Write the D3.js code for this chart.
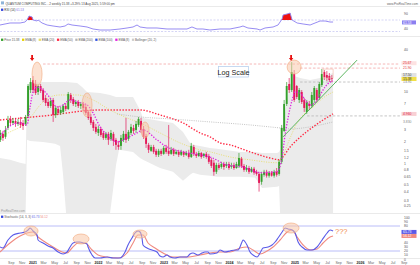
<!DOCTYPE html>
<html><head><meta charset="utf-8">
<script src="https://cdn.jsdelivr.net/npm/d3@7/dist/d3.min.js"></script>
<style>html,body{margin:0;padding:0;background:#fff;overflow:hidden}svg{display:block}text{font-family:"Liberation Sans",Arial,sans-serif}</style>
</head><body>
<svg id="chart" width="420" height="265"></svg>
<script>
// ---------------- DATA ----------------
const firstCandle = "2020-07-03"; // 2-weekly bars
const candleOpen = [2.14,2.60,2.36,3.15,4.22,3.71,3.95,3.59,3.83,3.71,
3.59,4.65,10.77,14.89,13.08,10.10,12.26,10.77,8.32,7.31,
6.42,7.80,4.80,5.83,5.12,5.29,6.42,5.83,9.17,8.05,
6.85,7.31,6.42,6.85,6.22,5.29,4.50,3.83,3.26,2.68,
3.05,2.68,2.28,2.60,2.21,2.60,2.14,1.82,1.76,2.14,
2.60,2.21,2.68,3.15,2.95,3.47,3.95,3.05,2.43,1.82,
1.50,1.70,1.50,1.32,1.50,1.36,1.65,1.50,1.36,1.55,
1.36,1.45,1.32,1.45,1.32,1.40,1.23,1.70,1.36,1.27,
1.40,1.27,1.36,1.27,1.12,1.02,0.76,0.95,0.89,0.98,
0.92,0.98,0.89,0.95,0.86,0.92,1.16,0.92,0.81,0.86,
0.76,0.84,0.76,0.71,0.55,0.69,0.76,0.67,0.74,0.67,
0.76,0.71,1.05,2.86,6.85,13.08,10.77,18.07,12.26,7.80,
10.10,7.80,5.29,6.85,6.42,7.80,10.77,8.32,12.66,19.28,
17.50,16.94,15.88];
const candleHigh = [2.95,2.86,3.36,4.65,4.65,4.36,4.36,4.22,4.50,4.08,
4.80,13.08,15.88,16.94,14.89,13.08,13.08,11.49,9.17,8.05,
8.32,8.32,6.42,6.42,6.22,6.85,7.07,10.10,9.78,8.59,
7.80,7.80,7.31,7.31,6.85,5.64,4.96,4.08,3.59,3.36,
3.26,2.86,2.77,2.77,2.95,2.77,2.28,2.07,2.51,2.86,
4.36,2.95,3.59,3.47,3.95,4.50,4.36,3.36,2.60,1.94,
1.82,1.82,1.60,1.60,1.60,1.76,1.82,3.47,1.70,1.65,
1.55,1.55,1.55,1.50,1.50,1.55,1.94,1.82,1.45,1.50,
1.45,1.40,1.45,1.36,1.19,1.12,1.02,1.02,1.05,1.05,
1.05,1.05,1.02,1.02,1.05,1.40,1.23,0.98,0.95,0.92,
0.89,0.89,0.81,0.76,0.76,0.81,0.81,0.78,0.78,0.81,
0.86,1.12,3.47,7.80,13.95,15.88,26.65,20.57,12.66,11.49,
10.77,8.32,7.80,7.55,10.10,12.26,11.49,13.95,21.25,20.57,
19.92,18.67,17.50];
const candleLow = [2.00,2.07,2.21,2.95,3.36,3.47,3.26,3.36,3.15,2.95,
3.36,4.36,9.78,9.78,9.17,9.17,9.78,7.31,6.42,6.02,
6.02,3.83,4.36,4.80,4.80,4.96,5.46,5.64,7.07,6.42,
6.22,6.02,5.83,5.46,4.80,4.08,3.47,2.86,2.60,2.43,
2.36,2.14,2.14,1.82,2.07,1.76,1.55,1.55,1.55,2.00,
1.94,2.07,2.51,2.60,2.68,3.26,2.68,2.21,1.65,1.40,
1.45,1.36,1.23,1.23,1.27,1.32,1.36,1.27,1.32,1.27,
1.32,1.23,1.27,1.23,1.27,1.16,1.19,1.27,1.19,1.23,
1.16,1.19,1.16,0.98,0.86,0.67,0.71,0.81,0.84,0.81,
0.86,0.81,0.84,0.81,0.84,0.86,0.86,0.76,0.76,0.71,
0.74,0.69,0.67,0.40,0.50,0.65,0.63,0.63,0.65,0.63,
0.65,0.67,0.98,2.77,6.42,9.78,10.10,7.31,8.05,7.07,
6.85,5.29,4.96,5.64,6.02,7.07,7.31,7.80,11.87,14.89,
14.41,13.95,13.95];
const candleClose = [2.68,2.28,2.95,4.08,3.71,3.95,3.59,3.83,3.47,3.36,
4.50,12.26,13.95,10.77,9.78,12.26,10.43,7.80,7.07,6.42,
7.55,4.80,6.02,5.12,5.64,6.42,5.83,9.47,7.80,6.85,
7.31,6.42,6.85,6.02,5.12,4.36,3.71,3.15,2.77,3.05,
2.51,2.28,2.60,2.14,2.68,2.07,1.82,1.70,2.28,2.60,
2.14,2.77,3.26,2.86,3.59,4.22,2.95,2.36,1.88,1.55,
1.70,1.45,1.32,1.50,1.36,1.65,1.45,1.36,1.55,1.36,
1.45,1.32,1.45,1.32,1.40,1.23,1.76,1.36,1.27,1.40,
1.23,1.36,1.23,1.05,0.92,0.76,0.95,0.86,0.98,0.89,
0.98,0.86,0.95,0.86,0.98,1.19,0.92,0.81,0.86,0.76,
0.84,0.74,0.71,0.53,0.71,0.76,0.67,0.74,0.67,0.76,
0.69,1.05,3.15,6.85,12.26,10.77,19.28,7.80,8.59,10.77,
7.31,6.02,7.31,6.42,9.17,11.49,7.80,13.08,18.07,16.40,
15.88,14.89,15.38];

// moving averages: [decimal year, price]
const emaLong = [[2020.496,4.08],[2021.000,4.50],[2021.305,4.80],[2021.519,5.12],[2021.763,5.46],[2022.023,5.64],[2022.282,5.64],[2022.634,5.64],[2022.939,4.80],[2023.290,3.71],[2023.550,2.68],[2023.702,2.36],[2023.855,1.94],[2024.008,1.82],[2024.313,1.45],[2024.618,1.19],[2024.771,1.12],[2024.802,1.19],[2024.924,1.70],[2025.031,2.14],[2025.153,2.68],[2025.275,3.26],[2025.427,4.08],[2025.580,4.96]];
const emaGray = [[2022.282,4.96],[2022.634,4.50],[2023.092,4.22],[2023.702,3.83],[2024.313,3.47],[2024.771,3.15],[2024.924,3.05],[2025.229,3.26],[2025.580,3.83]];
const emaYellow = [[2020.496,2.28],[2020.649,2.77],[2020.802,3.26],[2020.954,4.36],[2021.107,6.63],[2021.260,8.59],[2021.412,9.17],[2021.672,9.17],[2021.916,7.80],[2022.176,5.64],[2022.435,4.36],[2022.634,3.71],[2022.939,2.68],[2023.244,1.94],[2023.550,1.55],[2023.702,1.45],[2024.008,1.23],[2024.313,1.12],[2024.725,1.02],[2024.817,1.32],[2024.924,2.28],[2025.031,3.71],[2025.122,4.80],[2025.275,6.22],[2025.427,8.32],[2025.580,10.10]];
const emaFast = [[2020.496,2.43],[2020.649,3.36],[2020.802,3.71],[2020.908,3.47],[2020.954,6.22],[2021.000,10.10],[2021.061,11.87],[2021.153,10.77],[2021.260,8.32],[2021.366,6.22],[2021.458,6.63],[2021.565,7.80],[2021.672,7.31],[2021.824,6.63],[2021.916,5.12],[2022.023,3.26],[2022.130,2.51],[2022.282,2.00],[2022.435,2.28],[2022.588,2.68],[2022.679,2.95],[2022.893,2.14],[2023.046,1.70],[2023.290,1.45],[2023.550,1.32],[2023.702,1.23],[2023.962,0.95],[2024.206,0.89],[2024.466,0.74],[2024.725,0.76],[2024.802,1.23],[2024.847,2.51],[2024.893,4.36],[2024.954,7.80],[2025.000,10.10],[2025.076,9.78],[2025.153,7.80],[2025.229,6.63],[2025.305,7.07],[2025.382,9.17],[2025.458,11.87],[2025.534,13.95],[2025.580,14.41]];

// Bollinger (20,2) – null lower = below the log axis
const bandYears = [2020.496,2020.649,2020.802,2020.886,2020.908,2020.954,2021.153,2021.336,2021.412,2021.458,2021.504,2021.672,2021.748,2021.824,2022.023,2022.176,2022.221,2022.267,2022.313,2022.527,2022.634,2022.679,2022.939,2023.137,2023.290,2023.397,2023.443,2023.550,2023.702,2023.809,2024.160,2024.389,2024.496,2024.725,2024.756,2024.771,2024.786,2024.832,2024.878,2024.924,2024.985,2025.076,2025.229,2025.382,2025.580];
const bandUpper = [1.19,1.12,1.02,0.98,12.26,13.51,13.95,13.95,13.95,13.95,13.95,13.51,11.87,10.10,9.78,9.17,8.87,8.59,8.59,8.59,5.64,4.36,3.95,3.71,2.77,1.94,1.82,1.76,1.65,1.60,1.45,1.45,1.40,1.40,1.45,1.55,2.51,4.36,7.80,12.66,16.94,15.88,14.89,15.88,18.67];
const bandLower = [null,null,null,null,2.14,2.07,2.00,1.88,1.76,0.69,null,null,null,null,null,null,0.42,0.95,1.55,1.45,1.19,1.12,0.86,0.76,0.57,0.69,0.74,0.69,0.67,0.65,0.65,0.63,0.45,0.47,0.48,null,null,null,null,null,null,null,null,null,null];

// RSI (14)
const rsiSeries = [[2020.496,52.6],[2020.573,56.1],[2020.649,59.6],[2020.725,59.6],[2020.802,59.6],[2020.878,63.0],[2020.908,70.0],[2020.939,83.9],[2020.985,80.4],[2021.000,70.0],[2021.061,66.5],[2021.076,70.0],[2021.137,59.6],[2021.214,52.6],[2021.305,49.1],[2021.412,45.7],[2021.489,49.1],[2021.534,56.1],[2021.595,52.6],[2021.718,49.1],[2021.824,45.7],[2021.916,38.7],[2022.023,35.2],[2022.176,35.2],[2022.328,38.7],[2022.435,42.2],[2022.527,45.7],[2022.588,52.6],[2022.634,45.7],[2022.740,42.2],[2022.893,42.2],[2023.046,38.7],[2023.198,38.7],[2023.351,38.7],[2023.427,45.7],[2023.504,38.7],[2023.595,38.7],[2023.702,35.2],[2023.855,38.7],[2024.008,38.7],[2024.160,45.7],[2024.206,49.1],[2024.282,42.2],[2024.420,38.7],[2024.466,35.2],[2024.542,42.2],[2024.664,45.7],[2024.740,52.6],[2024.802,73.5],[2024.817,87.4],[2024.878,90.9],[2024.924,94.3],[2024.954,70.0],[2025.031,59.6],[2025.122,56.1],[2025.229,52.6],[2025.305,59.6],[2025.382,66.5],[2025.458,66.5],[2025.534,63.0],[2025.580,63.0]];

// Stochastic (14,3,3)
const stochK = [[2020.496,29.6],[2020.542,27.2],[2020.618,46.4],[2020.695,58.4],[2020.802,63.2],[2020.878,65.6],[2020.924,70.4],[2020.954,75.2],[2021.000,68],[2021.061,58.4],[2021.076,46.4],[2021.153,39.2],[2021.229,32],[2021.305,27.2],[2021.382,17.6],[2021.458,12.8],[2021.519,17.6],[2021.565,29.6],[2021.611,39.2],[2021.672,41.6],[2021.718,41.6],[2021.763,39.2],[2021.824,36.8],[2021.840,29.6],[2021.901,10.4],[2021.947,3.2],[2022.023,3.2],[2022.130,5.6],[2022.221,3.2],[2022.328,3.2],[2022.405,17.6],[2022.450,34.4],[2022.511,51.2],[2022.557,63.2],[2022.603,68],[2022.634,65.6],[2022.664,51.2],[2022.679,34.4],[2022.740,27.2],[2022.817,22.4],[2022.893,17.6],[2022.939,8],[2022.985,5.6],[2023.046,10.4],[2023.092,5.6],[2023.168,3.2],[2023.244,5.6],[2023.351,5.6],[2023.397,12.8],[2023.443,15.2],[2023.519,10.4],[2023.580,15.2],[2023.626,17.6],[2023.672,17.6],[2023.702,12.8],[2023.809,15.2],[2023.855,22.4],[2023.931,17.6],[2024.008,20],[2024.084,22.4],[2024.130,22.4],[2024.191,41.6],[2024.206,46.4],[2024.267,34.4],[2024.313,17.6],[2024.359,10.4],[2024.420,5.6],[2024.466,15.2],[2024.511,27.2],[2024.588,29.6],[2024.649,34.4],[2024.695,41.6],[2024.740,51.2],[2024.802,65.6],[2024.847,75.2],[2024.893,72.8],[2024.954,70.4],[2025.000,63.2],[2025.046,41.6],[2025.107,29.6],[2025.183,22.4],[2025.260,22.4],[2025.336,29.6],[2025.412,46.4],[2025.489,63.2],[2025.534,70.4],[2025.580,68]];
const stochD = [[2020.496,17.6],[2020.649,39.2],[2020.802,56],[2020.908,63.2],[2021.000,65.6],[2021.076,53.6],[2021.183,41.6],[2021.305,29.6],[2021.443,17.6],[2021.519,15.2],[2021.595,27.2],[2021.687,39.2],[2021.794,39.2],[2021.901,22.4],[2021.992,10.4],[2022.130,5.6],[2022.298,3.2],[2022.435,15.2],[2022.527,39.2],[2022.603,58.4],[2022.679,58.4],[2022.756,39.2],[2022.863,27.2],[2022.985,15.2],[2023.137,5.6],[2023.351,5.6],[2023.550,10.4],[2023.702,15.2],[2023.855,17.6],[2024.008,17.6],[2024.160,27.2],[2024.267,29.6],[2024.359,22.4],[2024.466,12.8],[2024.573,20],[2024.664,29.6],[2024.771,46.4],[2024.878,65.6],[2024.954,70.4],[2025.031,53.6],[2025.122,34.4],[2025.229,22.4],[2025.336,24.8],[2025.427,39.2],[2025.534,53.6],[2025.580,56]];

// annotations
const trendLine = [[2024.817,2.36],[2025.947,28.4]];
const levelLines = [
  {from:2021.153, price:25.0, color:"#f4a6a6"},
  {from:2025.076, price:21.9, color:"#f4a6a6"},
  {from:2025.076, price:13.95, color:"#b8b8b8"},
  {from:2025.183, price:4.65, color:"#b8b8b8"}];
const priceCircles = [[2021.061,18.07,5,12],[2021.824,6.63,5,12],[2022.710,2.95,4,8],[2024.985,22.66,7,7]];
const stochCircles = [[2020.969,68,7,5],[2021.733,48.8,8,5],[2022.634,60.8,7,4],[2024.939,75.2,8,5]];
const peakArrows = [[2020.985,27.5],[2024.939,27.5]];
const mainTicks = [40,10,7,3,2,1.5,1.2,1,0.8,0.65,0.5,0.4,0.3,0.25];
const mainBoxes = [
  {p:25.67,t:"25.67",bg:"#fde2e2",fg:"#e03030"},
  {p:21.9,t:"21.90",bg:"none",fg:"#e03030"},
  {p:17.5,t:"17.50",bg:"#e2e2e2",fg:"#444"},
  {p:15.38,t:"15.38",bg:"#f2e04a",fg:"#333"},
  {p:13.95,t:"13.95",bg:"none",fg:"#777"},
  {p:4.96,t:"4.960",bg:"#f8d0d4",fg:"#e02040"},
  {p:3.83,t:"3.830",bg:"none",fg:"#888"}];
const rsiTicks = [90,40];
const stochTicks = [100,90,80,40,30,20,10,0];

// ---------------- CHART ----------------
const yr2date = y => { const Y=Math.floor(y), a=Date.UTC(Y,0,1), b=Date.UTC(Y+1,0,1); return new Date(a+(y-Y)*(b-a)); };
const svg = d3.select("#chart");
const x = d3.scaleUtc().domain([yr2date(2020.496), yr2date(2026.908)]).range([0,420]);
const MAIN_TOP=36, MAIN_BOT=213;
const yP = d3.scaleLog().domain([0.2,62]).range([MAIN_BOT,MAIN_TOP]);
const yR = d3.scaleLinear().domain([30,70]).range([31.5,20]);
const yS = d3.scaleLinear().domain([20,80]).range([251,226]);

const defs = svg.append("defs");
defs.append("clipPath").attr("id","clipMain").append("rect").attr("x",0).attr("y",MAIN_TOP+5).attr("width",420).attr("height",MAIN_BOT-MAIN_TOP-5);
defs.append("clipPath").attr("id","clipRsiHi").append("rect").attr("x",0).attr("y",0).attr("width",420).attr("height",yR(70));

// separators
[6.5,36.5,213.5,258.5].forEach(v=>svg.append("line").attr("x1",0).attr("x2",420).attr("y1",v).attr("y2",v).attr("stroke","#dcdcdc").attr("stroke-width",0.6));

// header
svg.append("rect").attr("x",1).attr("y",1.4).attr("width",3).attr("height",3).attr("fill","#8fb4d8");
svg.append("text").attr("x",5.5).attr("y",4.5).attr("font-size",3.0).attr("fill","#444")
  .text("QUANTUM COMPUTING INC. - 2 weekly 15.38 +3.29% 13 Aug 2025, 5:59:00 pm");
svg.append("text").attr("x",418).attr("y",4.5).attr("font-size",3.0).attr("fill","#666").attr("text-anchor","end").text("www.ProRealTime.com");

// ---------- RSI panel ----------
const rsiG = svg.append("g");
[70,30].forEach(v=>rsiG.append("line").attr("x1",0).attr("x2",400).attr("y1",yR(v)).attr("y2",yR(v))
  .attr("stroke","#b9b9ee").attr("stroke-width",0.6).attr("stroke-dasharray","2,1.5"));
const rsiPts = rsiSeries.map(d=>[x(yr2date(d[0])), d[1]]);
rsiG.append("path").attr("clip-path","url(#clipRsiHi)")
  .attr("d", d3.area().x(d=>d[0]).y0(yR(70)).y1(d=>yR(d[1]))(rsiPts)).attr("fill","#ee1111");
rsiG.append("path").attr("d", d3.line().x(d=>d[0]).y(d=>yR(d[1]))(rsiPts))
  .attr("fill","none").attr("stroke","#8b7ff0").attr("stroke-width",0.9);
rsiG.append("rect").attr("x",1).attr("y",8.6).attr("width",2.3).attr("height",2.3).attr("fill","#3344dd");
rsiG.append("text").attr("x",4.3).attr("y",10.8).attr("font-size",3.0).attr("fill","#333").text("RSI (14) ")
  .append("tspan").attr("fill","#7d6fe8").text("61.53");
rsiTicks.forEach(v=>rsiG.append("text").attr("x",404).attr("y",yR(v)+1.2).attr("font-size",3.4).attr("fill","#555").text(v));
rsiG.append("rect").attr("x",402).attr("y",yR(61.53)-2).attr("width",14).attr("height",4).attr("fill","#8b7ff0");
rsiG.append("text").attr("x",403).attr("y",yR(61.53)+1.2).attr("font-size",3.4).attr("fill","#fff").text("61.53");

// ---------- main panel ----------
const mainG = svg.append("g");
const mg = mainG.append("g").attr("clip-path","url(#clipMain)");
const band = bandYears.map((yv,i)=>({x:x(yr2date(yv)), u:bandUpper[i], l:bandLower[i]}));
mg.append("path").attr("d", d3.area().x(d=>d.x).y0(d=>d.l==null?MAIN_BOT:yP(d.l)).y1(d=>yP(d.u))(band))
  .attr("fill","#ebebeb");

// level lines
levelLines.forEach(L=>mg.append("line").attr("x1",x(yr2date(L.from))).attr("x2",400)
  .attr("y1",yP(L.price)).attr("y2",yP(L.price)).attr("stroke",L.color).attr("stroke-width",0.8).attr("stroke-dasharray","2.5,1.8"));

const ln = d3.line().x(d=>x(yr2date(d[0]))).y(d=>yP(d[1])).curve(d3.curveMonotoneX);
mg.append("path").attr("d",ln(emaGray)).attr("fill","none").attr("stroke","#b5b5b5").attr("stroke-width",0.8).attr("stroke-dasharray","1,1.2");
mg.append("path").attr("d",ln(emaLong)).attr("fill","none").attr("stroke","#ff2a44").attr("stroke-width",1.4).attr("stroke-dasharray","1.4,1.6");
mg.append("path").attr("d",ln(emaYellow)).attr("fill","none").attr("stroke","#e6dc6a").attr("stroke-width",0.9).attr("stroke-dasharray","1,1.4");

// candles
const start = new Date(firstCandle+"T00:00:00Z");
const candles = candleClose.map((c,i)=>({d:d3.utcDay.offset(start,14*i), o:candleOpen[i], h:candleHigh[i], l:candleLow[i], c}));
const cg = mg.append("g");
candles.forEach(k=>{
  const cx = x(k.d), up = k.c>=k.o, col = up ? "#34a02c" : "#e31a5a";
  cg.append("line").attr("x1",cx).attr("x2",cx).attr("y1",yP(k.h)).attr("y2",yP(k.l)).attr("stroke",col).attr("stroke-width",0.7);
  const y1 = yP(Math.max(k.o,k.c)), y2 = yP(Math.min(k.o,k.c));
  cg.append("rect").attr("x",cx-0.95).attr("width",1.9).attr("y",y1).attr("height",Math.max(0.8,y2-y1)).attr("fill",col);
});
mg.append("path").attr("d",ln(emaFast)).attr("fill","none").attr("stroke","#e020e0").attr("stroke-width",1.3).attr("stroke-dasharray","1.3,1.5");

// trend line
mg.append("line").attr("x1",x(yr2date(trendLine[0][0]))).attr("y1",yP(trendLine[0][1]))
  .attr("x2",x(yr2date(trendLine[1][0]))).attr("y2",yP(trendLine[1][1])).attr("stroke","#4caf50").attr("stroke-width",0.9);

// orange highlight box near the last bars
mg.append("rect").attr("x",x(yr2date(2025.427))).attr("y",yP(21.25)).attr("width",x(yr2date(2025.58))-x(yr2date(2025.427)))
  .attr("height",yP(15.88)-yP(21.25)).attr("fill","none").attr("stroke","#f2b6a6").attr("stroke-width",0.6);

// circles
priceCircles.forEach(c=>mainG.append("ellipse").attr("cx",x(yr2date(c[0]))).attr("cy",yP(c[1])).attr("rx",c[2]).attr("ry",c[3])
  .attr("fill","#f9c6a6").attr("fill-opacity",0.5).attr("stroke","#f2a77c").attr("stroke-width",0.6));
// arrows
peakArrows.forEach(a=>{
  const cx=x(yr2date(a[0])), ty=yP(a[1]);
  mainG.append("path").attr("d",`M${cx},${ty} L${cx-2.2},${ty-3} L${cx-0.9},${ty-3} L${cx-0.9},${ty-6} L${cx+0.9},${ty-6} L${cx+0.9},${ty-3} L${cx+2.2},${ty-3} Z`).attr("fill","#e81010");
});

// Log Scale box
mainG.append("rect").attr("x",218.5).attr("y",66.5).attr("width",30).attr("height",10.5).attr("fill","#fff").attr("stroke","#b8d0ee").attr("stroke-width",0.8);
mainG.append("text").attr("x",233.5).attr("y",74.6).attr("font-size",7.2).attr("fill","#222").attr("text-anchor","middle").text("Log Scale");

// main legend
const legendItems = [["Price 15.38","#34a02c"],["EMA (8)","#e6d200"],["EMA (20)","#e6dc6a"],["EMA (50)","#ff2a44"],["EMA (200)","#b5b5b5"],["EMA (100)","#3050e0"],["EMA (8)","#e020e0"],["Bollinger (20, 2)","#cccccc"]];
let lx = 1;
legendItems.forEach(it=>{
  mainG.append("rect").attr("x",lx).attr("y",38.6).attr("width",2.3).attr("height",2.3).attr("fill",it[1]);
  const t = mainG.append("text").attr("x",lx+3.2).attr("y",40.8).attr("font-size",3.0).attr("fill","#555").text(it[0]);
  lx += 3.2 + t.node().getComputedTextLength() + 2.6;
});

// main axis labels
mainTicks.forEach(v=>mainG.append("text").attr("x",404).attr("y",yP(v)+1.2).attr("font-size",3.4).attr("fill","#555").text(v));
mainBoxes.forEach(b=>{
  if(b.bg!=="none") mainG.append("rect").attr("x",401.5).attr("y",yP(b.p)-2).attr("width",15).attr("height",4).attr("fill",b.bg);
  mainG.append("text").attr("x",403).attr("y",yP(b.p)+1.2).attr("font-size",3.4).attr("fill",b.fg).text(b.t);
});
svg.append("text").attr("x",1).attr("y",212).attr("font-size",3.0).attr("fill","#999").text("ProRealTime.com");

// ---------- Stochastic panel ----------
const sg = svg.append("g");
[80,20].forEach(v=>sg.append("line").attr("x1",0).attr("x2",400).attr("y1",yS(v)).attr("y2",yS(v)).attr("stroke","#a8acf6").attr("stroke-width",0.8));
const sl = d3.line().x(d=>x(yr2date(d[0]))).y(d=>yS(d[1])).curve(d3.curveMonotoneX);
sg.append("path").attr("d",sl(stochD)).attr("fill","none").attr("stroke","#f08a80").attr("stroke-width",1.1);
sg.append("path").attr("d",sl(stochK)).attr("fill","none").attr("stroke","#5a5ae8").attr("stroke-width",1.1);
stochCircles.forEach(c=>sg.append("ellipse").attr("cx",x(yr2date(c[0]))).attr("cy",yS(c[1])).attr("rx",c[2]).attr("ry",c[3])
  .attr("fill","#f9c6a6").attr("fill-opacity",0.55).attr("stroke","#f2a77c").attr("stroke-width",0.6));
sg.append("text").attr("x",335).attr("y",233.5).attr("font-size",7.5).attr("fill","#f08a4a").text("???");
sg.append("rect").attr("x",1).attr("y",215.6).attr("width",2.3).attr("height",2.3).attr("fill","#3344dd");
const st = sg.append("text").attr("x",4.3).attr("y",217.8).attr("font-size",3.0).attr("fill","#555").text("Stochastic (14, 3, 3) ");
st.append("tspan").attr("fill","#5a5ae8").text("65.73 ");
st.append("tspan").attr("fill","#f08a80").text("56.12");
stochTicks.forEach(v=>sg.append("text").attr("x",404).attr("y",yS(v)+1.2).attr("font-size",3.4).attr("fill","#555").text(v));
[[65.73,"#5a5ae8"],[56.12,"#f08a80"]].forEach(b=>{
  sg.append("rect").attr("x",401.5).attr("y",yS(b[0])-2).attr("width",15).attr("height",4).attr("fill",b[1]);
  sg.append("text").attr("x",403).attr("y",yS(b[0])+1.2).attr("font-size",3.4).attr("fill","#fff").text(b[0].toFixed(2));
});

// ---------- time axis ----------
const months = d3.utcMonth.every(2).range(x.domain()[0], x.domain()[1]).filter(m=>x(m)>6 && x(m)<412);
months.forEach(m=>{
  const isYear = m.getUTCMonth()===0;
  svg.append("text").attr("x",x(m)).attr("y",263.8).attr("font-size",3.6).attr("text-anchor","middle")
    .attr("fill",isYear?"#222":"#666").attr("font-weight",isYear?"bold":"normal")
    .text(isYear ? d3.utcFormat("%Y")(m) : d3.utcFormat("%b")(m));
});
</script>
</body></html>
